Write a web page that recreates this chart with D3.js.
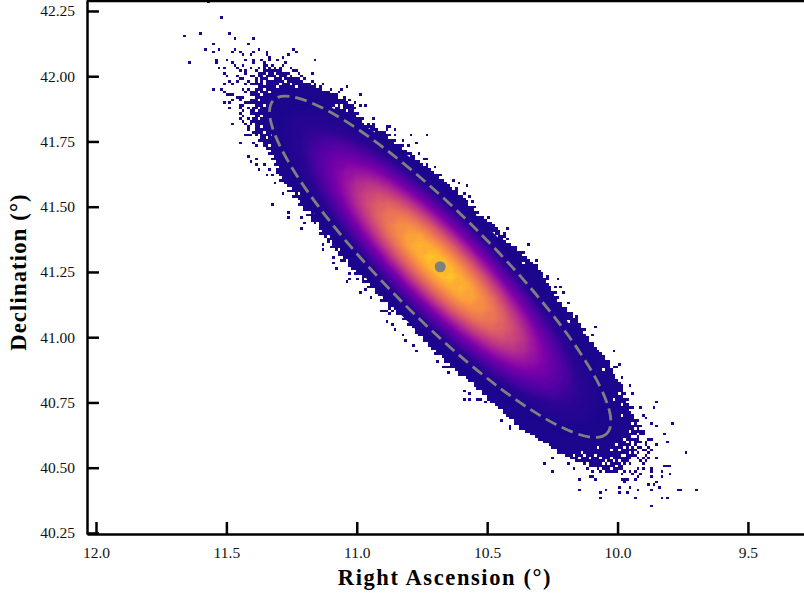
<!DOCTYPE html>
<html><head><meta charset="utf-8">
<script src="https://cdn.jsdelivr.net/npm/d3@7/dist/d3.min.js"></script>
<style>html,body{margin:0;padding:0;background:#fff}svg{display:block}</style>
</head><body><div id="c"></div>
<script>
const raTicks=[12.0,11.5,11.0,10.5,10.0,9.5];
const decTicks=[42.25,42.0,41.75,41.5,41.25,41.0,40.75,40.5,40.25];
const xTitle="Right Ascension (°)";
const yTitle="Declination (°)";
const raRange=[12.0345,9.285];
const decRange=[42.292,40.246];
const centre=[10.68,41.27];
const ellipseSemiAxes=[0.904,0.199];
const ellipseTiltDeg=45;
// estimated relative density on a 0.04 degree grid; each row is a 21-cell band that starts at column = row index
const gridStep=0.04;
const densityBand=[
[0,0,0,0,1,1,2,3,4,5,6,7,7,7,7,6,5,4,3,2,1],
[0,0,0,1,1,2,3,4,5,7,8,9,9,9,8,7,6,5,3,2,2],
[0,0,1,1,2,2,4,5,7,9,10,11,12,12,11,9,8,6,4,3,2],
[0,0,1,1,2,3,5,7,9,11,13,15,15,15,14,12,10,7,5,4,2],
[0,1,1,2,3,4,7,9,12,15,17,19,19,19,17,14,12,9,6,4,3],
[0,1,1,2,4,6,8,12,15,19,22,23,24,23,21,17,14,10,7,5,3],
[0,1,2,3,5,7,11,15,19,23,27,29,29,27,25,21,16,12,9,6,4],
[1,1,2,4,6,9,14,19,24,29,32,35,35,33,29,24,19,14,10,6,4],
[1,2,3,5,8,12,17,23,29,35,39,41,41,38,34,28,22,16,11,7,4],
[1,2,3,6,10,14,21,27,35,41,46,48,47,44,38,32,24,18,12,8,5],
[1,2,4,7,12,17,25,33,41,48,53,55,54,50,43,35,27,19,13,8,5],
[2,3,5,9,14,21,29,38,47,55,61,63,61,56,48,39,29,21,14,9,5],
[2,4,6,10,16,24,34,44,54,63,68,70,67,61,52,42,32,22,15,9,6],
[2,4,7,12,19,28,38,50,61,70,75,77,73,66,56,44,33,24,16,10,6],
[3,5,9,14,22,32,43,56,67,77,82,83,79,70,59,47,35,24,16,10,6],
[3,6,10,16,24,35,48,61,73,83,88,88,83,74,61,48,36,25,16,10,6],
[4,6,11,18,27,39,52,66,79,88,93,93,86,76,63,49,36,25,16,10,6],
[4,7,12,19,29,42,56,70,83,93,97,95,88,77,63,49,36,24,16,9,5],
[4,8,13,21,32,44,59,74,86,95,99,97,89,77,63,48,35,24,15,9,5],
[5,8,14,22,33,47,61,76,88,97,100,97,88,76,61,47,33,22,14,8,5],
[5,9,15,24,35,48,63,77,89,97,99,95,86,74,59,44,32,21,13,8,4],
[5,9,16,24,36,49,63,77,88,95,97,93,83,70,56,42,29,19,12,7,4],
[6,10,16,25,36,49,63,76,86,93,93,88,79,66,52,39,27,18,11,6,4],
[6,10,16,25,36,48,61,74,83,88,88,83,73,61,48,35,24,16,10,6,3],
[6,10,16,24,35,47,59,70,79,83,82,77,67,56,43,32,22,14,9,5,3],
[6,10,16,24,33,44,56,66,73,77,75,70,61,50,38,28,19,12,7,4,2],
[6,9,15,22,32,42,52,61,67,70,68,63,54,44,34,24,16,10,6,4,2],
[5,9,14,21,29,39,48,56,61,63,61,55,47,38,29,21,14,9,5,3,2],
[5,8,13,19,27,35,43,50,54,55,53,48,41,33,25,17,12,7,4,2,1],
[5,8,12,18,24,32,38,44,47,48,46,41,35,27,21,14,10,6,3,2,1],
[4,7,11,16,22,28,34,38,41,41,39,35,29,23,17,12,8,5,3,2,1],
[4,6,10,14,19,24,29,33,35,35,32,29,24,19,14,9,6,4,2,1,1],
[4,6,9,12,16,21,25,27,29,29,27,23,19,15,11,7,5,3,2,1,0],
[3,5,7,10,14,17,21,23,24,23,22,19,15,12,8,6,4,2,1,1,0],
[3,4,6,9,12,14,17,19,19,19,17,15,12,9,7,4,3,2,1,1,0],
[2,4,5,7,10,12,14,15,15,15,13,11,9,7,5,3,2,1,1,0,0],
[2,3,4,6,8,9,11,12,12,11,10,9,7,5,4,2,2,1,1,0,0],
[2,2,3,5,6,7,8,9,9,9,8,7,5,4,3,2,1,1,0,0,0],
[1,2,3,4,5,6,7,7,7,7,6,5,4,3,2,1,1,0,0,0,0]];
const colourStops=[14,27,33,43,57,72,85,95,100];
const colourPositions=[0.02,0.05,0.11,0.2,0.36,0.55,0.7,0.82,0.9];
// histogram bins (col,row) for the solid region's edges and for speckle
const binWidth=0.01023;
const firstRow=26;
const leftEdge=[66,65,64,65,63,62,64,62,61,61,63,61,60,62,60,61,60,62,60,61,61,63,62,62,63,65,64,66,66,67,69,68,70,69,71,70,72,71,71,72,73,72,74,75,76,75,78,77,79,80,79,81,81,83,82,84,84,85,87,87,88,87,89,90,90,92,91,93,94,94,96,96,98,98,99,101,100,103,103,104,106,105,108,108,109,111,110,113,113,115,116,116,119,118,121,120,122,123,123,124,126,126,128,128,129,131,130,133,134,134,136,136,138,139,139,142,143,145,145,146,148,148,150,150,151,153,154,156,156,157,158,160,160,162,162,164,166,168,169,171,173,174,176,176,179,181,183,186,188,190,193];
const rightEdge=[72,75,76,79,80,83,85,87,90,92,93,96,97,99,100,99,101,100,103,102,105,107,108,111,112,112,115,114,117,117,119,120,122,122,124,125,127,128,129,131,131,133,134,135,136,138,138,140,141,142,142,144,144,146,145,148,149,151,152,153,154,154,156,155,156,158,160,160,163,162,164,165,166,168,168,169,170,170,172,171,172,173,173,175,174,176,175,177,177,178,179,181,181,183,183,184,184,186,185,186,187,187,189,189,190,191,192,193,193,194,195,195,196,196,197,197,198,199,199,200,200,201,200,202,201,202,204,202,203,204,204,206,205,207,206,207,208,206,207,207,205,207,205,206,205,204,203,203,201,200,197];
const speckleCols=[45,50,36,42,53,55,60,62,47,44,49,47,54,55,57,58,62,61,64,67,67,68,73,75,77,78,38,48,48,52,54,59,62,62,65,66,68,71,85,49,51,55,56,58,61,52,51,57,59,59,53,54,51,56,56,57,58,61,47,50,51,52,53,54,54,56,57,51,53,53,57,54,57,62,63,59,60,61,60,60,84,97,80,64,66,67,69,70,72,73,74,66,68,76,77,78,79,63,64,62,63,60,61,59,60,58,59,58,57,59,58,58,58,57,57,58,57,59,60,81,84,85,87,88,90,91,93,94,96,98,100,95,102,102,104,107,107,115,121,127,118,115,120,123,118,124,121,120,126,127,127,130,128,129,132,137,139,142,138,141,143,144,145,145,150,148,112,113,112,113,115,150,157,156,157,165,168,172,176,172,175,177,173,178,174,180,176,179,178,183,184,186,190,189,197,199,198,197,195,200,197,200,203,204,213,212,207,208,209,211,213,219,208,216,217,213,211,210,209,224,213,217,216,218,215,218,215,211,211,211,213,212,214,210,211,206,221,222,228,203,199,194,192,184,199,202,192,205,215,217,211,184,174,171,174,182,180,190,188,189,206,205,200,201,202,201,233,190,192,193,192,195,194,196,197,198,199,200,203,204,205,206,207,208,208,209,209,210,208,207,206,209,211,210,209,208,210,201,198,186,188,187,189,178,180,183,60,63,61,63,66,64,67,69,68,70,73,69,75,75,80,81,80,88,92,92,93,95,88,88,98,98,97,101,103,102,104,106,112,114,115,118,119,122,123,113,114,113,116,110,111,112,131,133,134,135,135,141,143,141,143,146,147,148,149,155,158,158,160];
const speckleRows=[0,6,13,12,12,14,16,14,16,18,18,19,19,18,19,20,19,20,18,19,20,21,21,20,18,19,23,22,23,22,23,22,22,23,22,23,22,22,22,25,25,24,25,24,25,28,27,26,26,27,30,31,31,28,30,29,29,28,33,33,34,35,35,35,37,36,36,38,38,40,39,46,53,53,54,50,50,50,48,47,27,32,28,25,24,24,24,25,25,24,23,25,25,25,26,26,27,26,27,28,29,30,31,31,33,33,34,36,37,38,39,41,43,42,44,45,40,46,44,29,30,31,32,31,34,33,35,34,36,37,38,33,35,39,39,44,46,48,50,50,52,52,54,53,54,57,57,57,59,59,61,62,63,65,65,67,68,69,70,72,73,75,77,79,81,81,47,47,48,50,50,81,85,87,89,91,97,103,104,107,107,107,108,109,110,113,113,115,116,118,121,123,122,125,131,136,137,137,135,141,141,144,144,147,150,152,152,155,156,158,159,158,161,162,165,166,164,164,165,169,171,174,174,174,176,177,178,175,176,178,180,181,182,181,183,183,183,183,183,182,182,183,184,183,184,184,186,186,186,186,189,179,176,173,171,175,173,179,178,178,178,179,179,179,179,180,200,172,173,175,176,174,176,176,175,176,175,177,176,177,176,175,177,175,173,172,170,171,171,172,171,168,168,167,166,168,169,176,173,172,173,175,176,168,170,172,58,59,60,61,61,63,65,65,63,68,72,76,79,81,85,83,81,83,96,98,100,97,93,91,102,104,105,104,105,109,108,111,120,121,123,125,127,129,131,115,116,117,117,116,116,116,135,137,137,137,139,146,147,149,149,149,149,147,150,157,159,160,155];
const holeCols=[83,85,82,86,79,76,90,91,94,97,100,104,107,105,104,107,120,104,97,100,97,93,92,95,127,130,138,138,143,159,161,163,166,172,177,180,181,182,193,190,153,152,148,201,202,204,198,196,191,185,182,200,203,205,206,198,196,194,190,187,192,202,201,204,203,205,200,200,197,199,203,62,64,66,63,60,66,68,63,71,73,68,66,76,78,82,62,65,67,65,68,69,61,90,95,97,97,205,206,204,207,204,206,201,199,203,201,204,199,197,203,200,205,195,193,198,201,203,192,188,186,184,196,199,193,190,187,204,206,207,205,207,64,66,62,64,61,65,62,64,61,66,69,71,74,70,72,67,75,62,64,62,64,66,65,61,63];
const holeRows=[79,79,82,83,72,70,88,90,93,97,97,104,110,48,51,49,58,46,44,41,41,39,40,40,66,68,74,77,76,96,98,98,104,114,118,120,124,126,138,139,88,87,84,164,165,166,166,168,167,169,170,170,167,169,172,173,171,172,170,173,175,173,176,158,161,163,155,151,149,147,153,36,37,39,41,42,33,34,32,32,29,29,28,31,32,30,46,47,51,54,54,50,44,41,39,44,41,160,162,163,164,165,166,167,168,169,170,171,172,172,172,173,173,173,173,174,174,174,171,171,170,171,175,175,176,175,175,175,168,169,167,171,30,30,33,34,36,35,39,40,40,31,29,28,30,27,31,27,28,43,44,48,50,49,43,47,52];

const W=804,H=597,left=87,bottom=534;
const x=d3.scaleLinear().domain(raRange).range([left,W]);
const y=d3.scaleLinear().domain(decRange).range([0,bottom]);
const svg=d3.select("#c").append("svg").attr("width",W).attr("height",H);
svg.append("defs").append("clipPath").attr("id","plot").append("rect").attr("x",left).attr("y",0).attr("width",W-left).attr("height",bottom);
const plot=svg.append("g").attr("clip-path","url(#plot)");

const tOf=d3.scaleLinear().domain(colourStops).range(colourPositions).clamp(true);
const colour=v=>d3.interpolatePlasma(tOf(v));
const binRa=c=>raRange[0]-c*binWidth, binDec=r=>decRange[0]-r*binWidth;
const base=d3.interpolatePlasma(colourPositions[0]);

const cells=plot.append("g").attr("shape-rendering","crispEdges");
cells.selectAll("rect.span").data(leftEdge).join("rect").attr("class","span")
  .attr("x",d=>x(binRa(d)))
  .attr("y",(d,i)=>y(binDec(firstRow+i)))
  .attr("width",(d,i)=>x(binRa(rightEdge[i]+1))-x(binRa(d)))
  .attr("height",(d,i)=>y(binDec(firstRow+i+1))-y(binDec(firstRow+i)))
  .attr("fill",base);
function drawBins(cols,rows,fill,cls){
  cells.selectAll("rect."+cls).data(cols).join("rect").attr("class",cls)
   .attr("x",d=>x(binRa(d))).attr("y",(d,i)=>y(binDec(rows[i])))
   .attr("width",x(binRa(1))-x(binRa(0))).attr("height",y(binDec(1))-y(binDec(0)))
   .attr("fill",fill);
}
drawBins(holeCols,holeRows,"#fff","hole");
drawBins(speckleCols,speckleRows,base,"speck");

const nRows=densityBand.length, nCols=nRows+densityBand[0].length-1;
const grid=new Array(nRows*nCols).fill(0);
densityBand.forEach((row,r)=>row.forEach((v,j)=>{grid[r*nCols+r+j]=v;}));
const midC=(nCols-1)/2, midR=(nRows-1)/2;
const thresholds=d3.range(colourStops[0],100.01,1.5);
const contours=d3.contours().size([nCols,nRows]).thresholds(thresholds)(grid);
const path=d3.geoPath(d3.geoTransform({point(cx,cy){
  this.stream.point(x(centre[0]-gridStep*(cx-0.5-midC)), y(centre[1]-gridStep*(cy-0.5-midR)));
}}));
plot.append("g").selectAll("path").data(contours).join("path")
  .attr("d",path).attr("fill",d=>colour(d.value)).attr("stroke",d=>colour(d.value)).attr("stroke-width",0.4);

const gray="#808080";
const cx=x(centre[0]),cy=y(centre[1]);
plot.append("ellipse").attr("cx",cx).attr("cy",cy)
  .attr("rx",x(centre[0]-ellipseSemiAxes[0])-cx).attr("ry",x(centre[0]-ellipseSemiAxes[1])-cx)
  .attr("transform",`rotate(${ellipseTiltDeg} ${cx} ${cy})`)
  .attr("fill","none").attr("stroke",gray).attr("stroke-width",2.8).attr("stroke-dasharray","12,6");
plot.append("circle").attr("cx",cx).attr("cy",cy).attr("r",5.5).attr("fill",gray);

const serif="'Liberation Serif','Times New Roman',serif";
const ax=svg.append("g").attr("transform",`translate(0,${bottom})`)
 .call(d3.axisBottom(x).tickValues(raTicks).tickFormat(d3.format(".1f")).tickSize(-12).tickPadding(12).tickSizeOuter(0));
const ay=svg.append("g").attr("transform",`translate(${left},0)`)
 .call(d3.axisLeft(y).tickValues(decTicks).tickFormat(d3.format(".2f")).tickSize(-12).tickPadding(12).tickSizeOuter(0));
[ax,ay].forEach(g=>{
  g.selectAll(".tick line").attr("stroke","#000").attr("stroke-width",2.5);
  g.selectAll(".domain").attr("stroke","#000").attr("stroke-width",2.5);
  g.selectAll("text").attr("font-family",serif).attr("font-size",15.5).attr("fill","#111");
});
ax.selectAll("text").attr("dy","0").attr("y",24);
svg.append("line").attr("x1",left).attr("x2",W).attr("y1",1).attr("y2",1).attr("stroke","#000").attr("stroke-width",2.5);
svg.append("text").attr("x",445).attr("y",585).attr("text-anchor","middle")
  .attr("font-family",serif).attr("font-weight","bold").attr("font-size",22.5).attr("letter-spacing",1.6).text(xTitle);
svg.append("text").attr("transform","translate(26,272) rotate(-90)").attr("text-anchor","middle")
  .attr("font-family",serif).attr("font-weight","bold").attr("font-size",22.5).attr("letter-spacing",1.2).text(yTitle);
</script></body></html>
